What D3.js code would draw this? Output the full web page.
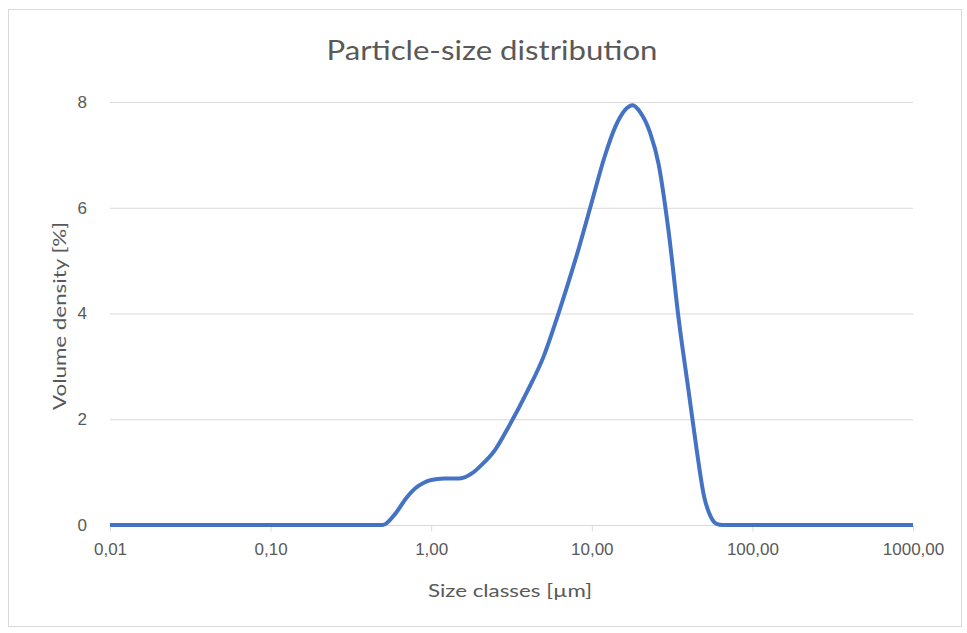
<!DOCTYPE html>
<meta charset="utf-8">
<style>
body { margin: 0; background: #fff; font-family: Lato, 'Open Sans', sans-serif; }
.grid line { stroke: #d9d9d9; stroke-width: 1px; }
.tick text { fill: #595959; font-size: 17px; }
</style>
<body>
<div id="chart"></div>
<script src="https://d3js.org/d3.v7.min.js"></script>
<script>

// size classes (µm) and volume density (%)
var sizes = [0.01, 0.1, 0.5, 0.6, 0.7, 0.8, 0.9, 1.0, 1.2, 1.5, 1.8, 2.0, 2.5, 3.0, 4.0, 5.0, 6.0, 7.0, 8.0,
             10, 12, 14, 16, 18, 20, 23, 26, 30, 35, 40, 45, 50, 55, 60, 65, 100, 1000];
var density = [0, 0, 0, 0.22, 0.51, 0.70, 0.80, 0.85, 0.88, 0.88, 0.98, 1.10, 1.42, 1.83, 2.55, 3.18, 3.87, 4.50, 5.07,
               6.11, 6.96, 7.53, 7.84, 7.94, 7.81, 7.43, 6.84, 5.58, 3.82, 2.55, 1.42, 0.54, 0.16, 0.02, 0, 0, 0];

var xTicks = [0.01, 0.1, 1, 10, 100, 1000];
var xTickLabels = ["0,01", "0,10", "1,00", "10,00", "100,00", "1000,00"];
var yTicks = [0, 2, 4, 6, 8];

var W = 967, H = 633;
var margin = { top: 102, right: 54, bottom: 108, left: 110 };
var width = W - margin.left - margin.right;
var height = H - margin.top - margin.bottom;

var svg = d3.select("#chart").append("svg")
  .attr("width", W)
  .attr("height", H);

// chart frame
svg.append("rect")
  .attr("x", 8.5).attr("y", 9.5)
  .attr("width", 953).attr("height", 617)
  .attr("fill", "#fff")
  .attr("stroke", "#d9d9d9");

var g = svg.append("g")
  .attr("transform", "translate(" + margin.left + "," + margin.top + ")");

var x = d3.scaleLog().domain([0.01, 1000]).range([0, width]);
var y = d3.scaleLinear().domain([0, 8]).range([height, 0]);

// horizontal gridlines
g.append("g").attr("class", "grid")
  .selectAll("line")
  .data(yTicks.filter(function(d) { return d > 0; }))
  .enter().append("line")
    .attr("x1", 0).attr("x2", width)
    .attr("y1", function(d) { return y(d) + 0.5; })
    .attr("y2", function(d) { return y(d) + 0.5; });

// x axis
var xAxis = g.append("g")
  .attr("transform", "translate(0," + (height + 0.5) + ")")
  .call(d3.axisBottom(x).tickValues(xTicks)
    .tickFormat(function(d, i) { return xTickLabels[i]; })
    .tickSize(6).tickPadding(11));
xAxis.select(".domain").attr("stroke", "#d9d9d9").attr("d", "M0,0H" + width);
xAxis.selectAll(".tick line").attr("stroke", "#d9d9d9");

// y axis
var yAxis = g.append("g")
  .call(d3.axisLeft(y).tickValues(yTicks).tickSize(0).tickPadding(23));
yAxis.select(".domain").remove();

// axis titles
svg.append("text")
  .attr("x", 510)
  .attr("y", 597)
  .attr("text-anchor", "middle")
  .attr("fill", "#595959")
  .attr("textLength", 164)
  .attr("lengthAdjust", "spacingAndGlyphs")
  .style("font-size", "18px")
  .text("Size classes [µm]");

svg.append("text")
  .attr("transform", "translate(66,316) rotate(-90)")
  .attr("text-anchor", "middle")
  .attr("fill", "#595959")
  .attr("textLength", 188)
  .attr("lengthAdjust", "spacingAndGlyphs")
  .style("font-size", "18px")
  .text("Volume density [%]");

// title
svg.append("text")
  .attr("x", 492)
  .attr("y", 60)
  .attr("text-anchor", "middle")
  .attr("fill", "#595959")
  .attr("textLength", 331)
  .attr("lengthAdjust", "spacingAndGlyphs")
  .style("font-size", "27px")
  .text("Particle-size distribution");

// distribution line
var line = d3.line()
  .x(function(d, i) { return x(sizes[i]); })
  .y(function(d) { return y(d); })
  .curve(d3.curveMonotoneX);

g.append("path")
  .datum(density)
  .attr("fill", "none")
  .attr("stroke", "#4472c4")
  .attr("stroke-width", 4)
  .attr("stroke-linejoin", "round")
  .attr("d", line);

</script>
